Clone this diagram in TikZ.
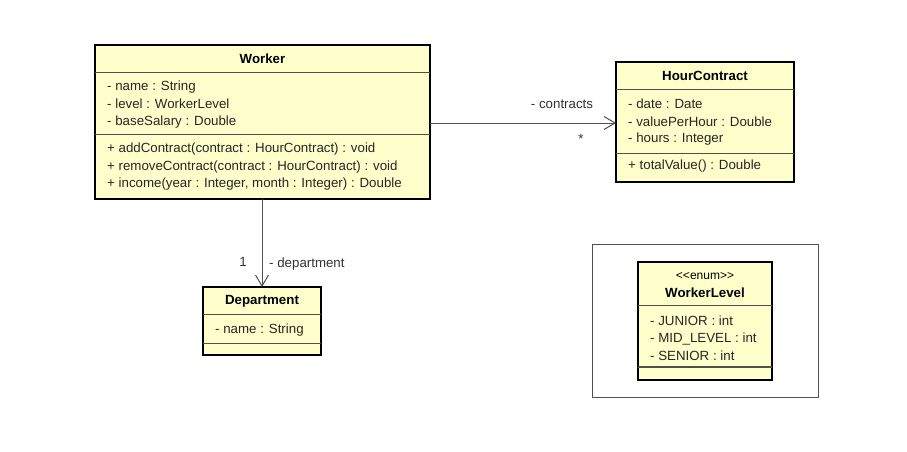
\documentclass[tikz,border=0pt]{standalone}
\usepackage{fontspec}
\setmainfont{Liberation Sans}
\usetikzlibrary{arrows.meta}
\definecolor{umlfill}{RGB}{255,255,204}
\definecolor{umlline}{RGB}{80,80,80}
\begin{document}
\begin{tikzpicture}[x=1pt,y=-1pt,
  cls/.style={draw=black,line width=2.2pt,fill=umlfill,anchor=north west,inner sep=0pt,outer sep=0pt},
  divider/.style={draw=umlline,line width=0.9pt},
  txt/.style={anchor=west,inner sep=0pt,font=\fontsize{13.3}{15}\selectfont,text=black!85},
  ttl/.style={anchor=center,inner sep=0pt,font=\fontsize{13.3}{15}\selectfont\bfseries},
  assoc/.style={draw=umlline,line width=1pt,-{Straight Barb[length=11pt,width=13pt,line width=1pt]}},
  lbl/.style={inner sep=0pt,font=\fontsize{13.3}{15}\selectfont,text=black!80}]
\useasboundingbox (0,0) rectangle (907,452);
\fill[white] (0,0) rectangle (907,452);

% Worker
\node[cls,minimum width=335pt,minimum height=154pt] (worker) at (95,45) {};
\draw[divider] (95,72) -- (430,72);
\draw[divider] (95,134) -- (430,134);
\node[ttl] (wt) at (262.5,59) {Worker};
\node[txt] (w1) at (107,87) {- name : String};
\node[txt] (w2) at (107,104) {- level : WorkerLevel};
\node[txt] (w3) at (107,122) {- baseSalary : Double};
\node[txt] (w4) at (107,149) {+ addContract(contract : HourContract) : void};
\node[txt] (w5) at (107,167) {+ removeContract(contract : HourContract) : void};
\node[txt] (w6) at (107,184) {+ income(year : Integer, month : Integer) : Double};

% HourContract
\node[cls,minimum width=178pt,minimum height=120pt] (hc) at (616,62) {};
\draw[divider] (616,89) -- (794,89);
\draw[divider] (616,153) -- (794,153);
\node[ttl] (hct) at (705,76) {HourContract};
\node[txt] (h1) at (628,104) {- date : Date};
\node[txt] (h2) at (628,122) {- valuePerHour : Double};
\node[txt] (h3) at (628,139) {- hours : Integer};
\node[txt] (h4) at (628,166) {+ totalValue() : Double};

% Department
\node[cls,minimum width=118pt,minimum height=68pt] (dep) at (203,287) {};
\draw[divider] (203,314) -- (321,314);
\draw[divider] (203,343) -- (321,343);
\node[ttl] (dt) at (262,301) {Department};
\node[txt] (d1) at (215,330) {- name : String};

% WorkerLevel frame
\node[draw=umlline,line width=0.9pt,anchor=north west,minimum width=226pt,minimum height=153pt,inner sep=0pt] (frame) at (592,244) {};
\node[cls,minimum width=134pt,minimum height=118pt] (wl) at (638,262) {};
\draw[divider] (638,305) -- (772,305);
\draw[divider,line width=1.6pt] (638,367) -- (772,367);
\node[anchor=center,inner sep=0pt,font=\fontsize{12}{14}\selectfont] (st) at (705,276) {<{}<enum>{}>};
\node[ttl] (wlt) at (705,293) {WorkerLevel};
\node[txt] (l1) at (650,321) {- JUNIOR : int};
\node[txt] (l2) at (650,339) {- MID\_LEVEL : int};
\node[txt] (l3) at (650,356) {- SENIOR : int};

% associations
\coordinate (a1) at (430,123);
\coordinate (b1) at (616,123);
\draw[assoc] (a1) -- (b1);
\node[lbl] (lc) at (562,104) {- contracts};
\node[lbl] (ls) at (581,139) {*};

\coordinate (a2) at (262,199);
\coordinate (b2) at (262,287);
\draw[assoc] (a2) -- (b2);
\node[lbl] (l1n) at (243,262) {1};
\node[lbl,anchor=west] (ld) at (269,264) {- department};
\end{tikzpicture}
\end{document}
